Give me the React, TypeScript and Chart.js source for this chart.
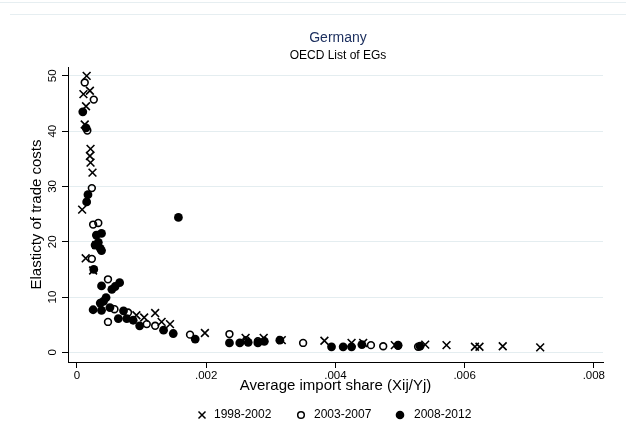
import React, { useEffect, useRef } from "react";
import { Chart, registerables } from "chart.js";

Chart.register(...registerables);

const seriesLabels = ["1998-2002", "2003-2007", "2008-2012"];
const xTickValues = [0, 0.002, 0.004, 0.006, 0.008];
const xTickLabels = ["0", ".002", ".004", ".006", ".008"];
const yTickValues = [0, 10, 20, 30, 40, 50];

const share9802 = [0.00015, 0.0001, 0.0002, 0.00014, 0.00012, 0.00021, 0.0002, 0.00021, 0.00024, 0.00008, 0.000135, 0.0003, 0.00025, 0.00092, 0.00104, 0.00121, 0.00131, 0.00144, 0.00198, 0.00261, 0.00289, 0.00317, 0.00383, 0.00425, 0.00443, 0.00492, 0.00539, 0.00572, 0.00616, 0.00623, 0.00659, 0.00717];
const elast9802 = [50.0, 46.7, 47.3, 44.5, 41.2, 36.8, 35.5, 34.3, 32.5, 25.8, 17.0, 19.4, 14.8, 6.7, 6.3, 7.1, 5.5, 5.1, 3.5, 2.6, 2.6, 2.2, 2.1, 1.7, 1.7, 1.3, 1.4, 1.3, 1.0, 1.0, 1.1, 0.9];

const share0307 = [0.00012, 0.00026, 0.00016, 0.00023, 0.00025, 0.00033, 0.00023, 0.00048, 0.00058, 0.00079, 0.00048, 0.00108, 0.00121, 0.00175, 0.00236, 0.00262, 0.0028, 0.0035, 0.00455, 0.00474, 0.00497, 0.00528];
const elast0307 = [48.8, 45.7, 40.1, 29.7, 23.1, 23.4, 16.9, 13.2, 7.8, 7.2, 5.5, 5.1, 4.8, 3.2, 3.3, 2.2, 2.0, 1.7, 1.3, 1.1, 1.2, 1.0];

const share0812 = [0.00009, 0.00014, 0.00017, 0.00015, 0.00038, 0.0003, 0.00033, 0.00028, 0.00036, 0.00038, 0.00026, 0.00038, 0.00066, 0.00059, 0.00054, 0.00045, 0.00041, 0.00036, 0.00025, 0.00038, 0.00051, 0.00072, 0.00064, 0.00077, 0.00087, 0.00097, 0.00134, 0.00149, 0.00157, 0.00183, 0.00236, 0.00252, 0.00265, 0.0028, 0.0029, 0.00314, 0.00394, 0.00412, 0.00425, 0.00441, 0.00497, 0.00531];
const elast0812 = [43.5, 40.6, 28.5, 27.2, 21.5, 21.2, 19.9, 19.4, 18.8, 18.4, 15.0, 12.0, 12.6, 11.9, 11.4, 9.9, 9.2, 8.9, 7.7, 7.6, 8.1, 7.5, 6.1, 6.1, 5.8, 4.8, 4.0, 3.4, 24.4, 2.4, 1.7, 1.7, 1.8, 1.7, 2.0, 2.2, 1.0, 1.0, 1.0, 1.4, 1.3, 1.1];

const titleText = "Germany";
const subtitleText = "OECD List of EGs";
const xTitle = "Average import share (Xij/Yj)";
const yTitle = "Elasticty of trade costs";

const FONT = '"Liberation Sans", Arial, sans-serif';

const toPoints = (xs: number[], ys: number[]) => xs.map((x, i) => ({ x, y: ys[i] }));

const decorPlugin = {
  id: "decor",
  beforeDraw(chart: any) {
    const ctx = chart.ctx;
    ctx.save();
    ctx.fillStyle = "#ffffff";
    ctx.fillRect(0, 0, chart.width, chart.height);
    ctx.strokeStyle = "#e6eef1";
    ctx.lineWidth = 1;
    ctx.beginPath();
    ctx.moveTo(0, 2.5);
    ctx.lineTo(chart.width, 2.5);
    ctx.moveTo(10, 14.5);
    ctx.lineTo(chart.width, 14.5);
    ctx.stroke();
    ctx.restore();
  },
  afterDraw(chart: any) {
    const ctx = chart.ctx;
    ctx.save();
    ctx.textAlign = "center";
    ctx.textBaseline = "middle";
    ctx.fillStyle = "#1e3160";
    ctx.font = `14px ${FONT}`;
    ctx.fillText(titleText, 338, 38);
    ctx.fillStyle = "#000000";
    ctx.font = `12px ${FONT}`;
    ctx.fillText(subtitleText, 338, 56);

    // legend
    const ly = 415;
    ctx.font = `12px ${FONT}`;
    ctx.textAlign = "left";
    ctx.strokeStyle = "#000";
    ctx.fillStyle = "#000";
    seriesLabels.forEach((label, i) => {
      const mx = 202 + 99 * i;
      if (i === 0) {
        ctx.lineWidth = 1.5;
        ctx.beginPath();
        ctx.moveTo(mx - 3.5, ly - 3.5);
        ctx.lineTo(mx + 3.5, ly + 3.5);
        ctx.moveTo(mx - 3.5, ly + 3.5);
        ctx.lineTo(mx + 3.5, ly - 3.5);
        ctx.stroke();
      } else if (i === 1) {
        ctx.lineWidth = 1.5;
        ctx.beginPath();
        ctx.arc(mx, ly, 3.3, 0, Math.PI * 2);
        ctx.stroke();
      } else {
        ctx.beginPath();
        ctx.arc(mx, ly, 4.3, 0, Math.PI * 2);
        ctx.fill();
      }
      ctx.fillText(label, 214 + 100 * i, ly);
    });
    ctx.restore();
  },
};

export default function App() {
  const ref = useRef<HTMLCanvasElement>(null);
  useEffect(() => {
    const chart = new Chart(ref.current as HTMLCanvasElement, {
      type: "scatter",
      data: {
        datasets: [
          {
            label: seriesLabels[0],
            data: toPoints(share9802, elast9802),
            pointStyle: "crossRot",
            radius: 5.5,
            borderWidth: 1.6,
            borderColor: "#000",
            backgroundColor: "#000",
            order: 2,
          },
          {
            label: seriesLabels[1],
            data: toPoints(share0307, elast0307),
            pointStyle: "circle",
            radius: 3.4,
            borderWidth: 1.6,
            borderColor: "#000",
            backgroundColor: "rgba(0,0,0,0)",
            order: 1,
          },
          {
            label: seriesLabels[2],
            data: toPoints(share0812, elast0812),
            pointStyle: "circle",
            radius: 4.4,
            borderWidth: 0,
            borderColor: "#000",
            backgroundColor: "#000",
            order: 0,
          },
        ],
      },
      options: {
        responsive: false,
        animation: false,
        events: [],
        layout: { padding: { top: 67, right: 23, left: 0, bottom: 42 } },
        plugins: {
          legend: { display: false },
          tooltip: { enabled: false },
          title: { display: false },
        },
        scales: {
          x: {
            type: "linear",
            min: -0.000139,
            max: 0.008142,
            afterBuildTicks: (s: any) => {
              s.ticks = xTickValues.map((v) => ({ value: v }));
            },
            afterFit: (s: any) => {
              s.height = 40;
            },
            grid: {
              display: true,
              drawOnChartArea: false,
              drawTicks: true,
              tickLength: 6,
              tickColor: "#000",
              lineWidth: 1,
            },
            border: { display: true, color: "#000", width: 1 },
            ticks: {
              color: "#000",
              font: { family: FONT, size: 11.5 },
              padding: 1,
              maxRotation: 0,
              autoSkip: false,
              callback: (_v: any, i: number) => xTickLabels[i],
            },
            title: {
              display: true,
              text: xTitle,
              color: "#000",
              font: { family: FONT, size: 15 },
              padding: { top: 0, bottom: 7 },
            },
          },
          y: {
            type: "linear",
            min: -1.75,
            max: 51.6,
            afterBuildTicks: (s: any) => {
              s.ticks = yTickValues.map((v) => ({ value: v }));
            },
            afterFit: (s: any) => {
              s.width = 68;
            },
            grid: {
              display: true,
              drawOnChartArea: true,
              drawTicks: true,
              tickLength: 6,
              tickColor: "#000",
              color: "#e4edf0",
              lineWidth: 1,
            },
            border: { display: true, color: "#000", width: 1 },
            ticks: {
              color: "#000",
              font: { family: FONT, size: 11.5 },
              padding: 3,
              minRotation: 90,
              maxRotation: 90,
              crossAlign: "center",
              autoSkip: false,
              callback: (v: any) => String(v),
            },
            title: {
              display: true,
              text: yTitle,
              color: "#000",
              font: { family: FONT, size: 15 },
              padding: { top: 28, bottom: 0 },
            },
          },
        },
      },
      plugins: [decorPlugin],
    } as any);
    return () => chart.destroy();
  }, []);
  return (
    <div style={{ position: "absolute", left: 0, top: 0, width: 626, height: 444, background: "#fff" }}>
      <canvas ref={ref} width={626} height={444} style={{ display: "block" }} />
    </div>
  );
}
